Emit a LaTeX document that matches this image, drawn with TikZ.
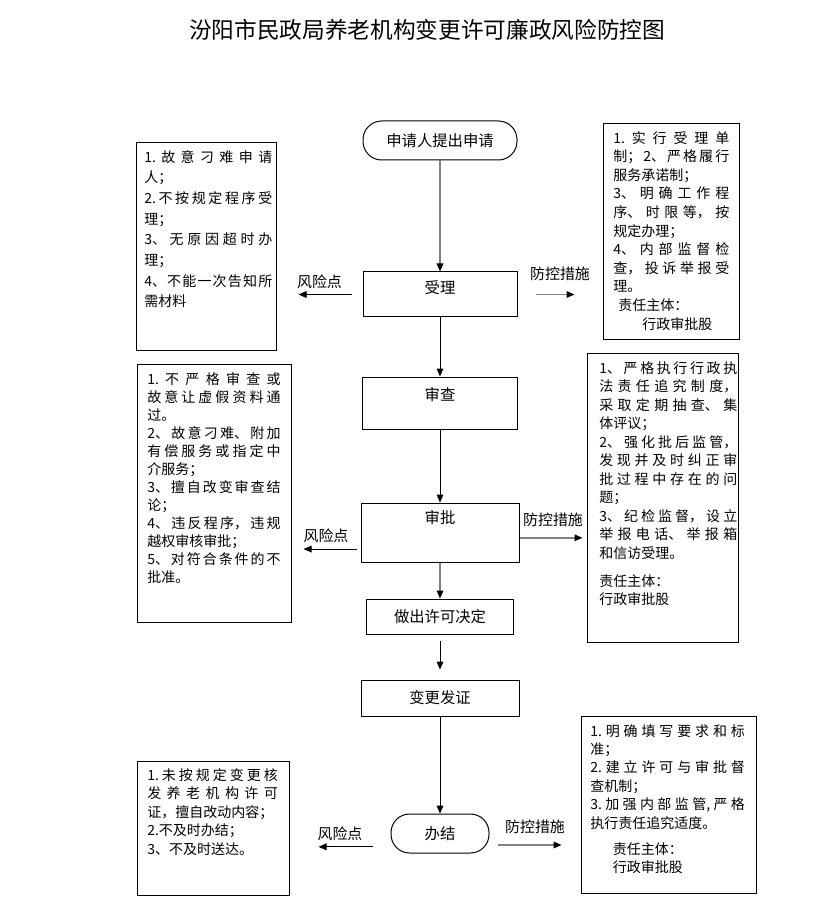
\documentclass[tikz,border=0pt]{standalone}
\usepackage{fontspec}
\setmainfont{Noto Sans CJK SC}
\usetikzlibrary{arrows.meta}
\XeTeXlinebreaklocale "zh"
\XeTeXlinebreakskip=0pt plus 4pt
\tolerance=10000
\hbadness=10000

\begin{document}
\begin{tikzpicture}[x=0.75pt, y=-0.75pt, font=\fontsize{11.5}{14}\selectfont,
    box/.style={draw, line width=0.75pt, inner sep=0pt},
    pill/.style={box, rounded corners=14pt},
    note/.style={inner sep=0pt, anchor=north west, align=justify},
    tip/.style={line width=0.75pt, -{Triangle[length=6pt, width=5pt, color=black]}},
    gtip/.style={tip, draw=gray, line width=1pt},
    lab/.style={above=3pt, inner sep=1pt, font=\fontsize{11.2}{14}\selectfont}]
  \useasboundingbox (0,0) rectangle (823,912);
  \node (title) at (427,30) {\fontsize{17}{20}\selectfont 汾阳市民政局养老机构变更许可廉政风险防控图};

  \node[pill, minimum width=115.5pt, minimum height=29.25pt] (start) at (440,140.5) {申请人提出申请};
  \node[box, minimum width=115.5pt, minimum height=33.75pt] (sl) at (440,294.5) {};
  \node (slt) at (440,288) {受理};
  \node[box, minimum width=116.25pt, minimum height=39pt] (sc) at (440,403) {};
  \node (sct) at (440,395) {审查};
  \node[box, minimum width=118.5pt, minimum height=44.25pt] (sp) at (440,532.5) {};
  \node (spt) at (440,518) {审批};
  \node[box, minimum width=110.25pt, minimum height=26.25pt] (jd) at (440,616.5) {做出许可决定};
  \node[box, minimum width=118.5pt, minimum height=27pt] (fz) at (440,698) {变更发证};
  \node[pill, minimum width=73.5pt, minimum height=29.25pt] (bj) at (440,833.5) {办结};

  \node[box, minimum width=105pt, minimum height=155.25pt] (fx1) at (206,246.5) {};
  \node[box, minimum width=102pt, minimum height=162pt] (fk1) at (671,232) {};
  \node[box, minimum width=115.5pt, minimum height=193.5pt] (fx2) at (214,493) {};
  \node[box, minimum width=113.25pt, minimum height=216.75pt] (fk2) at (662.5,497.5) {};
  \node[box, minimum width=114pt, minimum height=100.5pt] (fx3) at (213,828) {};
  \node[box, minimum width=131.25pt, minimum height=132.75pt] (fk3) at (668.5,804.5) {};

  \node[note, text width=96pt, font=\fontsize{10.5}{15.5}\selectfont] (fx1t) at (144,150)
    {1.故意刁难申请\linebreak 人；\\ 2.不按规定程序受\linebreak 理；\\ 3、无原因超时办\linebreak 理；\\ 4、不能一次告知所\linebreak 需材料};
  \node[note, text width=87pt, font=\fontsize{10.5}{13.95}\selectfont] (fk1t) at (613,131)
    {1.实行受理单\linebreak 制；2、严格履行\linebreak 服务承诺制；\\ 3、明确工作程\linebreak 序、时限等，按\linebreak 规定办理；\\ 4、内部监督检\linebreak 查，投诉举报受\linebreak 理。\\ \hspace*{3.75pt}责任主体：\\ \hspace*{21.75pt}行政审批股};
  \node[note, text width=100pt, font=\fontsize{10.5}{13.5}\selectfont] (fx2t) at (147,372)
    {1.不严格审查或\linebreak 故意让虚假资料通\linebreak 过。\\ 2、故意刁难、附加\linebreak 有偿服务或指定中\linebreak 介服务；\\ 3、擅自改变审查结\linebreak 论；\\ 4、违反程序，违规\linebreak 越权审核审批；\\ 5、对符合条件的不\linebreak 批准。};
  \node[note, text width=103.5pt, font=\fontsize{10.5}{13.9}\selectfont] (fk2t) at (599,361)
    {1、严格执行行政执\linebreak 法责任追究制度，\linebreak 采取定期抽查、集\linebreak 体评议；\\ 2、强化批后监管，\linebreak 发现并及时纠正审\linebreak 批过程中存在的问\linebreak 题；\\ 3、纪检监督，设立\linebreak 举报电话、举报箱\linebreak 和信访受理。\\[7pt] 责任主体：\\ 行政审批股};
  \node[note, text width=98pt, font=\fontsize{10.5}{13.9}\selectfont] (fx3t) at (147,768)
    {1.未按规定变更核\linebreak 发养老机构许可\linebreak 证，擅自改动内容；\\ 2.不及时办结；\\ 3、不及时送达。};
  \node[note, text width=116pt, font=\fontsize{10.5}{13.8}\selectfont] (fk3t) at (590,724)
    {1.明确填写要求和标\linebreak 准；\\ 2.建立许可与审批督\linebreak 查机制；\\ 3.加强内部监管,严格\linebreak 执行责任追究适度。\\[6pt] \hspace*{17pt}责任主体：\\ \hspace*{17pt}行政审批股};

  \draw[gtip] (start) -- (sl);
  \draw[tip] (sl) -- (sc);
  \draw[tip] (sc) -- (sp);
  \draw[gtip] (sp) -- (jd);
  \draw[tip, shorten <=4.5pt, shorten >=7.5pt] (jd) -- (fz);
  \draw[tip] (fz) -- (bj);

  \draw[tip, shorten <=8.25pt, shorten >=16.5pt] (sl.west) -- (sl.west -| fx1.east) node[lab, midway] {风险点};
  \draw[gtip, shorten <=13.5pt, shorten >=21pt] (sl.east) -- (sl.east -| fk1.west) node[lab, above=6pt, midway] {防控措施};
  \draw[tip, shorten <=3pt, shorten >=9pt] ([yshift=-12.4pt]sp.west) -- ([yshift=-12.4pt]sp.west -| fx2.east) node[lab, midway] {风险点};
  \draw[gtip, shorten >=3pt] ([yshift=-4pt]sp.east) -- ([yshift=-4pt]sp.east -| fk2.west) node[lab, above=4pt, midway] {防控措施};
  \draw[tip, shorten <=13.5pt, shorten >=21.75pt] ([yshift=-10pt]bj.west) -- ([yshift=-10pt]bj.west -| fx3.east) node[lab, midway] {风险点};
  \draw[gtip, shorten <=6pt, shorten >=14.25pt] ([yshift=-8.6pt]bj.east) -- ([yshift=-8.6pt]bj.east -| fk3.west) node[lab, above=4pt, midway] {防控措施};
\end{tikzpicture}
\end{document}
